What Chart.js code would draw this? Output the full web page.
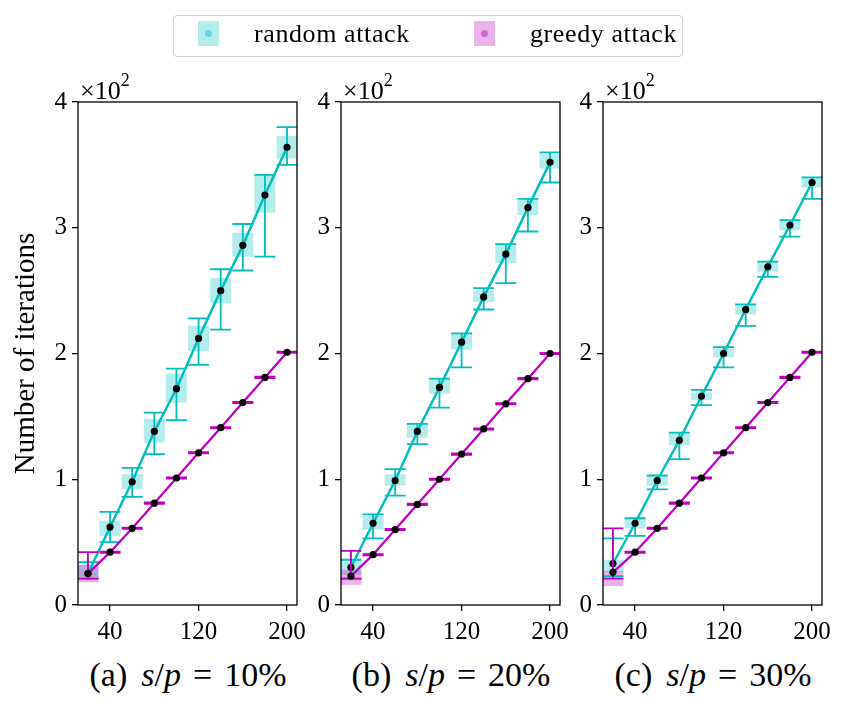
<!DOCTYPE html>
<html>
<head>
<meta charset="utf-8">
<script src="https://cdn.jsdelivr.net/npm/chart.js@4.4.1/dist/chart.umd.min.js"></script>
<style>
  body { margin: 0; background: #fff; font-family: "Liberation Serif", serif; }
  #wrap { position: relative; width: 849px; height: 710px; overflow: hidden; }
  canvas { position: absolute; top: 0; }
  .legend { position: absolute; left: 173px; top: 15px; width: 508px; height: 40px;
            border: 1px solid #d0d0d0; border-radius: 4px; }
  .sw { position: absolute; top: 5px; width: 21px; height: 25px; }
  .sw i { position: absolute; left: 7px; top: 9px; width: 7px; height: 7px; border-radius: 50%; }
  .lt { position: absolute; top: 4px; font-size: 26px; line-height: 28px; letter-spacing: 0.6px; }
  .mult { position: absolute; top: 69px; font-size: 26px; line-height: 28px; }
  .mult sup { font-size: 18px; position: relative; top: -3px; }
  .cap { position: absolute; top: 655px; width: 280px; text-align: center; font-size: 34px; line-height: 40px; white-space: nowrap; }
  .cap .eq { margin: 0 12px; }
  .cap .lb { margin-right: 14px; }
</style>
</head>
<body>
<div id="wrap">
  <canvas id="ca" width="315" height="650" style="left:0px"></canvas>
  <canvas id="cb" width="297" height="650" style="left:281px"></canvas>
  <canvas id="cc" width="297" height="650" style="left:543px"></canvas>

  <div class="legend">
    <div class="sw" style="left:24px;background:rgba(0,191,191,0.3)"><i style="background:rgba(0,191,191,0.45)"></i></div>
    <div class="lt" style="left:80px">random attack</div>
    <div class="sw" style="left:300px;background:rgba(191,0,191,0.3)"><i style="background:rgba(191,0,191,0.45)"></i></div>
    <div class="lt" style="left:356px">greedy attack</div>
  </div>

  <div class="mult" style="left:80px">×10<sup>2</sup></div>
  <div class="mult" style="left:343px">×10<sup>2</sup></div>
  <div class="mult" style="left:605px">×10<sup>2</sup></div>

  <div class="cap" style="left:48px"><span class="lb">(a)</span><i>s</i>/<i>p</i><span class="eq">=</span>10%</div>
  <div class="cap" style="left:311px"><span class="lb">(b)</span><i>s</i>/<i>p</i><span class="eq">=</span>20%</div>
  <div class="cap" style="left:573px"><span class="lb">(c)</span><i>s</i>/<i>p</i><span class="eq">=</span>30%</div>
</div>

<script>
const xValues = [20, 40, 60, 80, 100, 120, 140, 160, 180, 200];
const xTicks = [40, 120, 200];
const yTicks = [0, 100, 200, 300, 400];

// (a) s/p = 10%
const randomMeanA    = [25, 62, 98, 138, 172, 212, 250, 286, 326, 364];
const randomLowA     = [21, 50, 86, 120, 147, 191, 219, 266, 277, 350];
const randomHighA    = [34, 74, 109, 153, 188, 228, 267, 303, 342, 380];
const randomBoxLowA  = [22, 55, 92, 129, 161, 202, 240, 277, 312, 355];
const randomBoxHighA = [32, 67, 104, 148, 184, 222, 260, 296, 343, 373];
const greedyMeanA    = [25, 42, 61, 81, 101, 121, 141, 161, 181, 201];
const greedyLowA     = [21, 41.5, 60.5, 80.5, 100.5, 120.5, 140.5, 160.5, 180.5, 200.5];
const greedyHighA    = [42, 42.5, 61.5, 81.5, 101.5, 121.5, 141.5, 161.5, 181.5, 201.5];
const greedyBoxLowA  = [18, 41.8, 60.8, 80.8, 100.8, 120.8, 140.8, 160.8, 180.8, 200.8];
const greedyBoxHighA = [32, 42.2, 61.2, 81.2, 101.2, 121.2, 141.2, 161.2, 181.2, 201.2];

// (b) s/p = 20%
const randomMeanB    = [30, 65, 99, 138, 173, 209, 245, 279, 316, 352];
const randomLowB     = [21, 53, 87, 128, 157, 189, 235, 256, 297, 336];
const randomHighB    = [36, 72, 108, 144, 180, 216, 252, 287, 323, 360];
const randomBoxLowB  = [24, 60, 95, 133, 168, 203, 241, 272, 310, 347];
const randomBoxHighB = [36, 71, 104, 144, 180, 216, 250, 287, 322, 359];
const greedyMeanB    = [23, 40, 60, 80, 100, 120, 140, 160, 180, 200];
const greedyLowB     = [21, 39.5, 59.5, 79.5, 99.5, 119.5, 139.5, 159.5, 179.5, 199.5];
const greedyHighB    = [43, 40.5, 60.5, 80.5, 100.5, 120.5, 140.5, 160.5, 180.5, 200.5];
const greedyBoxLowB  = [16, 39.8, 59.8, 79.8, 99.8, 119.8, 139.8, 159.8, 179.8, 199.8];
const greedyBoxHighB = [28, 40.2, 60.2, 80.2, 100.2, 120.2, 140.2, 160.2, 180.2, 200.2];

// (c) s/p = 30%
const randomMeanC    = [33, 65, 99, 131, 166, 200, 235, 269, 302, 336];
const randomLowC     = [23, 55, 92, 116, 159, 189, 222, 261, 293, 323];
const randomHighC    = [53, 69, 103, 137, 171, 205, 239, 273, 306, 340];
const randomBoxLowC  = [26, 61, 95, 127, 163, 197, 231, 265, 298, 332];
const randomBoxHighC = [36, 69, 103, 137, 169, 204, 239, 273, 306, 340];
const greedyMeanC    = [26, 42, 61, 81, 101, 121, 141, 161, 181, 201];
const greedyLowC     = [21, 41.5, 60.5, 80.5, 100.5, 120.5, 140.5, 160.5, 180.5, 200.5];
const greedyHighC    = [61, 42.5, 61.5, 81.5, 101.5, 121.5, 141.5, 161.5, 181.5, 201.5];
const greedyBoxLowC  = [15, 41.8, 60.8, 80.8, 100.8, 120.8, 140.8, 160.8, 180.8, 200.8];
const greedyBoxHighC = [27, 42.2, 61.2, 81.2, 101.2, 121.2, 141.2, 161.2, 181.2, 201.2];

const CYAN = '#00bfbf';
const MAGENTA = '#bf00bf';
const FONT = 'Liberation Serif';

// error bars go under each line, frame goes on top of the data
const errorBars = {
    id: 'errorBars',
    beforeDatasetDraw(chart, args) {
        const ds = chart.data.datasets[args.index];
        if (!ds.errLow) return;
        const ctx = chart.ctx, a = chart.chartArea;
        const xs = chart.scales.x, ys = chart.scales.y;
        ctx.save();
        ctx.beginPath();
        ctx.rect(a.left, a.top, a.right - a.left, a.bottom - a.top);
        ctx.clip();
        ctx.strokeStyle = ds.borderColor;
        ctx.lineWidth = 1.8;
        ds.data.forEach((p, i) => {
            const x = xs.getPixelForValue(p.x);
            const y0 = ys.getPixelForValue(ds.errLow[i]);
            const y1 = ys.getPixelForValue(ds.errHigh[i]);
            ctx.beginPath();
            ctx.moveTo(x, y0); ctx.lineTo(x, y1);
            ctx.moveTo(x - 10.5, y0); ctx.lineTo(x + 10.5, y0);
            ctx.moveTo(x - 10.5, y1); ctx.lineTo(x + 10.5, y1);
            ctx.stroke();
        });
        ctx.restore();
    },
    afterDatasetsDraw(chart) {
        const ctx = chart.ctx, a = chart.chartArea;
        ctx.save();
        ctx.strokeStyle = '#000';
        ctx.lineWidth = 1.3;
        ctx.strokeRect(a.left, a.top, a.right - a.left, a.bottom - a.top);
        ctx.restore();
    }
};

function points(ys) { return xValues.map((x, i) => ({x: x, y: ys[i]})); }
function ranges(lo, hi) { return xValues.map((x, i) => ({x: x, y: [lo[i], hi[i]]})); }

function makePanel(id, yWidth, showTitle, r, g) {
    const ctx = document.getElementById(id).getContext('2d');
    return new Chart(ctx, {
        type: 'bar',
        data: {
            datasets: [
                {
                    type: 'line', label: 'random attack', data: points(r.mean),
                    borderColor: CYAN, borderWidth: 2.5, tension: 0,
                    pointRadius: 3.6, pointBackgroundColor: '#000', pointBorderWidth: 0,
                    errLow: r.low, errHigh: r.high, order: 2
                },
                {
                    type: 'line', label: 'greedy attack', data: points(g.mean),
                    borderColor: MAGENTA, borderWidth: 2.3, tension: 0,
                    pointRadius: 3.6, pointBackgroundColor: '#000', pointBorderWidth: 0,
                    errLow: g.low, errHigh: g.high, order: 1
                },
                {
                    type: 'bar', data: ranges(r.boxLow, r.boxHigh),
                    backgroundColor: 'rgba(0,191,191,0.3)', borderWidth: 0,
                    grouped: false, barPercentage: 0.95, categoryPercentage: 1, order: 4
                },
                {
                    type: 'bar', data: ranges(g.boxLow, g.boxHigh),
                    backgroundColor: 'rgba(191,0,191,0.3)', borderWidth: 0,
                    grouped: false, barPercentage: 0.95, categoryPercentage: 1, order: 3
                }
            ]
        },
        options: {
            responsive: false,
            animation: false,
            layout: { padding: { top: 102, right: 18, left: 0, bottom: 0 } },
            plugins: { legend: { display: false }, tooltip: { enabled: false } },
            scales: {
                x: {
                    type: 'linear', min: 11, max: 209, offset: false,
                    afterBuildTicks: s => { s.ticks = xTicks.map(v => ({value: v})); },
                    afterFit: s => { s.height = 45; },
                    grid: { drawOnChartArea: false, offset: false, tickLength: 6, color: '#000', lineWidth: 1.3 },
                    border: { display: false },
                    ticks: { color: '#000', font: { family: FONT, size: 25 }, padding: 6, maxRotation: 0 }
                },
                y: {
                    type: 'linear', min: 0, max: 400,
                    afterBuildTicks: s => { s.ticks = yTicks.map(v => ({value: v})); },
                    afterFit: s => { s.width = yWidth; },
                    grid: { drawOnChartArea: false, tickLength: 6, color: '#000', lineWidth: 1.3 },
                    border: { display: false },
                    ticks: { color: '#000', font: { family: FONT, size: 25 }, padding: 5,
                             callback: v => v / 100 },
                    title: { display: showTitle, text: 'Number of iterations', color: '#000',
                             font: { family: FONT, size: 29 }, padding: { top: 9, bottom: 0 } }
                }
            }
        },
        plugins: [errorBars]
    });
}

makePanel('ca', 78, true,
    { mean: randomMeanA, low: randomLowA, high: randomHighA, boxLow: randomBoxLowA, boxHigh: randomBoxHighA },
    { mean: greedyMeanA, low: greedyLowA, high: greedyHighA, boxLow: greedyBoxLowA, boxHigh: greedyBoxHighA });
makePanel('cb', 60, false,
    { mean: randomMeanB, low: randomLowB, high: randomHighB, boxLow: randomBoxLowB, boxHigh: randomBoxHighB },
    { mean: greedyMeanB, low: greedyLowB, high: greedyHighB, boxLow: greedyBoxLowB, boxHigh: greedyBoxHighB });
makePanel('cc', 60, false,
    { mean: randomMeanC, low: randomLowC, high: randomHighC, boxLow: randomBoxLowC, boxHigh: randomBoxHighC },
    { mean: greedyMeanC, low: greedyLowC, high: greedyHighC, boxLow: greedyBoxLowC, boxHigh: greedyBoxHighC });
</script>
</body>
</html>
